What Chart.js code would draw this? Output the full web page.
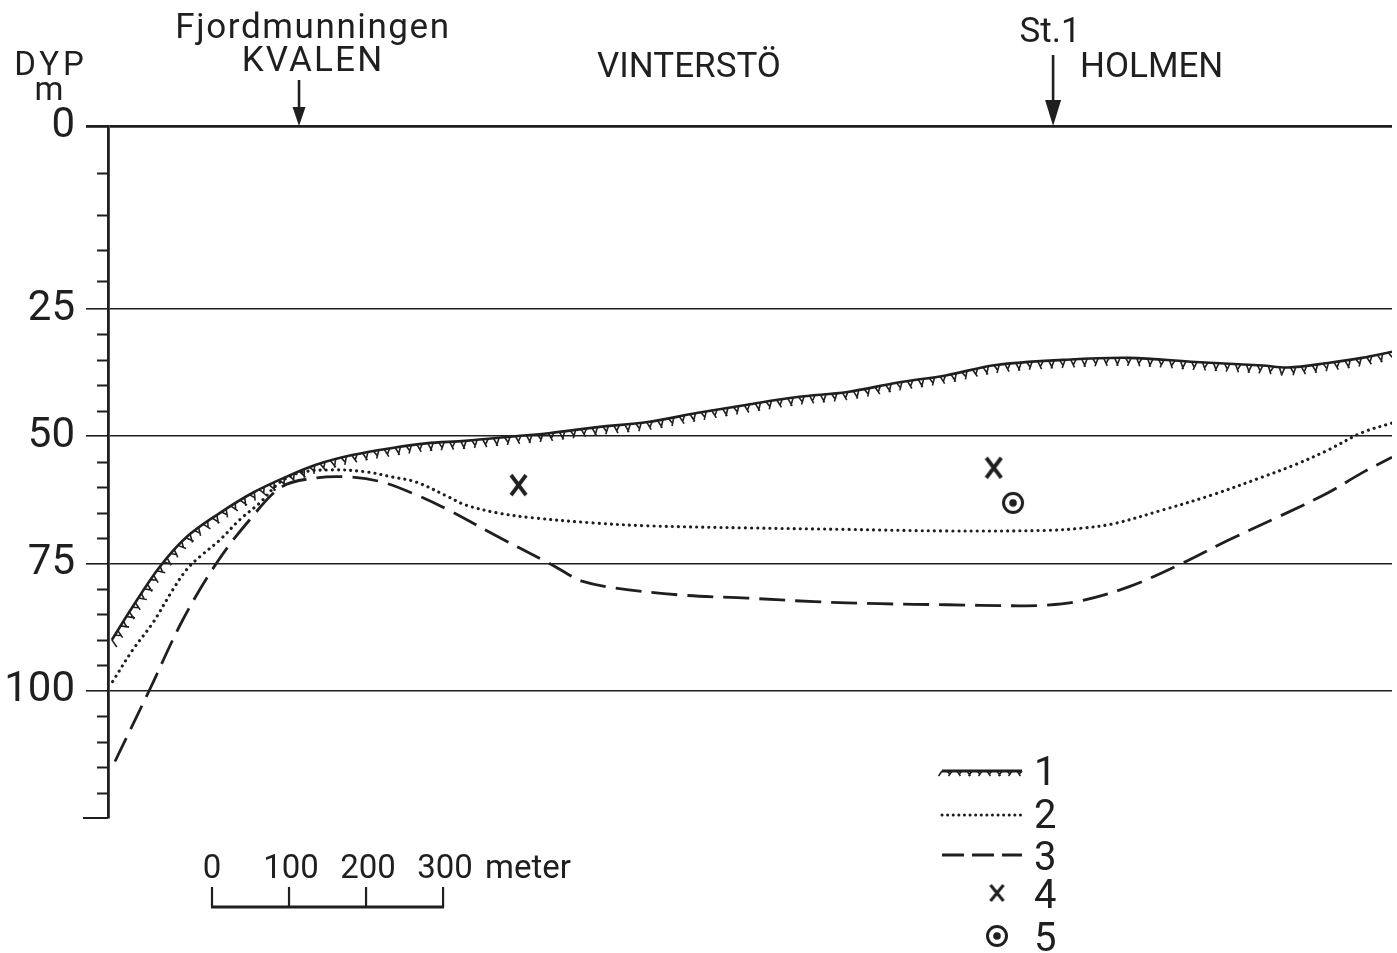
<!DOCTYPE html>
<html>
<head>
<meta charset="utf-8">
<title>DYP profil</title>
<script src="https://cdn.jsdelivr.net/npm/chart.js@4.4.1/dist/chart.umd.min.js"></script>
<style>
  html, body { margin: 0; padding: 0; background: #fff; overflow: hidden; }
  #wrap { width: 1397px; height: 953px; }
  #profile { display: block; }
</style>
</head>
<body>
<div id="wrap"><canvas id="profile" width="1397" height="953"></canvas></div>
<script>
// distance along the profile (m) and depth (m)
const DIST_1 = [5, 32, 67, 102, 145, 188, 231, 270, 317, 369, 413, 464, 529, 572, 636, 701, 766, 830, 895, 960, 1024, 1089, 1153, 1240, 1325, 1412, 1499, 1532, 1584, 1628, 1667];
const DEPTH_1 = [90.0, 83.5, 75.7, 69.8, 65.1, 61.1, 58.0, 55.6, 53.7, 52.3, 51.4, 50.9, 50.0, 49.4, 48.2, 47.2, 45.4, 43.8, 42.3, 41.3, 39.5, 38.0, 36.0, 35.0, 34.6, 35.4, 36.1, 36.5, 35.6, 34.6, 33.4];

const DIST_2 = [6, 32, 58, 84, 102, 119, 145, 171, 197, 222, 248, 291, 335, 369, 400, 442, 464, 507, 550, 627, 701, 830, 960, 1089, 1218, 1261, 1305, 1369, 1434, 1499, 1541, 1584, 1628, 1667];
const DEPTH_2 = [98.2, 92.0, 86.7, 80.2, 76.2, 73.7, 70.4, 66.4, 63.1, 59.2, 57.2, 56.6, 57.0, 58.0, 59.0, 61.9, 63.5, 65.1, 66.0, 67.0, 67.6, 68.0, 68.3, 68.6, 68.5, 68.1, 67.2, 64.5, 61.5, 58.0, 55.6, 52.7, 49.3, 47.4];

const DIST_3 = [9, 54, 97, 141, 184, 226, 270, 313, 356, 400, 442, 507, 572, 594, 614, 658, 744, 830, 917, 1002, 1089, 1175, 1218, 1261, 1325, 1390, 1455, 1520, 1584, 1628, 1667];
const DEPTH_3 = [113.9, 99.8, 86.1, 74.9, 66.4, 59.9, 58.2, 58.0, 59.0, 61.5, 64.5, 69.8, 74.9, 76.8, 78.4, 79.8, 81.2, 81.8, 82.5, 82.9, 83.1, 83.3, 83.2, 82.4, 79.6, 75.3, 70.4, 65.8, 61.1, 57.2, 54.1];

const DIST_4 = [533, 1150];
const DEPTH_4 = [59.6, 56.2];
const DIST_5 = [1175];
const DEPTH_5 = [63.1];

const DEPTH_LABELS = [0, 25, 50, 75, 100];
const SCALE_BAR = [0, 100, 200, 300];
const STATIONS = [
  { lines: ['Fjordmunningen', 'KVALEN'], dist: 248 },
  { lines: ['St.1'], dist: 1227 }
];
const LEGEND = ['1', '2', '3', '4', '5'];

const INK = '#1f1f1f';
const FONT = 'Roboto, "Open Sans", sans-serif';

// the drawing's depth axis is stretched near the surface
const DEPTH_STOPS = [[0, 0], [5, 47], [10, 89], [15, 124], [20, 155], [25, 183], [125, 692]];
function depthToFrac(v) {
  const last = DEPTH_STOPS[DEPTH_STOPS.length - 1];
  for (let i = 1; i < DEPTH_STOPS.length; i++) {
    const a = DEPTH_STOPS[i - 1], b = DEPTH_STOPS[i];
    if (v <= b[0] || i === DEPTH_STOPS.length - 1) {
      return (a[1] + (v - a[0]) / (b[0] - a[0]) * (b[1] - a[1])) / last[1];
    }
  }
}
function fracToDepth(f) {
  const last = DEPTH_STOPS[DEPTH_STOPS.length - 1];
  const p = f * last[1];
  for (let i = 1; i < DEPTH_STOPS.length; i++) {
    const a = DEPTH_STOPS[i - 1], b = DEPTH_STOPS[i];
    if (p <= b[1] || i === DEPTH_STOPS.length - 1) {
      return a[0] + (p - a[1]) / (b[1] - a[1]) * (b[0] - a[0]);
    }
  }
}

class DepthScale extends Chart.LinearScale {
  getPixelForValue(value) {
    if (value === null || value === undefined || isNaN(value)) return NaN;
    return this.getPixelForDecimal(depthToFrac(value));
  }
  getValueForPixel(pixel) {
    return fracToDepth(this.getDecimalForPixel(pixel));
  }
}
DepthScale.id = 'depth';
DepthScale.defaults = Chart.LinearScale.defaults;
Chart.register(DepthScale);

function pairs(xs, ys) {
  return xs.map((x, i) => ({ x: x, y: ys[i] }));
}

// ring with a dot, symbol 5
function ringDot(size) {
  const c = document.createElement('canvas');
  c.width = size; c.height = size;
  const g = c.getContext('2d');
  g.strokeStyle = INK; g.fillStyle = INK; g.lineWidth = 3;
  g.beginPath(); g.arc(size / 2, size / 2, size / 2 - 2.5, 0, Math.PI * 2); g.stroke();
  g.beginPath(); g.arc(size / 2, size / 2, 3.8, 0, Math.PI * 2); g.fill();
  return c;
}
// slightly tall cross, symbol 4
function crossMark(w, h, lw) {
  const c = document.createElement('canvas');
  c.width = w + 4; c.height = h + 4;
  const g = c.getContext('2d');
  g.strokeStyle = INK; g.lineWidth = lw;
  g.beginPath();
  g.moveTo(2, 2); g.lineTo(w + 2, h + 2);
  g.moveTo(w + 2, 2); g.lineTo(2, h + 2);
  g.stroke();
  return c;
}
const RING = ringDot(24);
const CROSS = crossMark(15, 20, 3.8);
const CROSS_SMALL = crossMark(13, 16, 3);

// follow the bezier path of a line dataset
function samplePath(points) {
  const out = [];
  for (let i = 0; i < points.length - 1; i++) {
    const a = points[i], b = points[i + 1];
    const c1x = a.cp2x ?? a.x, c1y = a.cp2y ?? a.y;
    const c2x = b.cp1x ?? b.x, c2y = b.cp1y ?? b.y;
    for (let s = 0; s < 16; s++) {
      const t = s / 16, u = 1 - t;
      out.push({
        x: u * u * u * a.x + 3 * u * u * t * c1x + 3 * u * t * t * c2x + t * t * t * b.x,
        y: u * u * u * a.y + 3 * u * u * t * c1y + 3 * u * t * t * c2y + t * t * t * b.y
      });
    }
  }
  const l = points[points.length - 1];
  out.push({ x: l.x, y: l.y });
  return out;
}

// little slanted strokes under the sea floor line
function drawHatch(ctx, path, spacing, len) {
  let next = 0, dist = 0, k = 0;
  ctx.save();
  ctx.strokeStyle = INK;
  ctx.lineWidth = 1.6;
  ctx.beginPath();
  for (let i = 1; i < path.length; i++) {
    const p = path[i - 1], q = path[i];
    const dx = q.x - p.x, dy = q.y - p.y, L = Math.hypot(dx, dy);
    if (!L) continue;
    const tx = dx / L, ty = dy / L, nx = -ty, ny = tx;
    while (next <= dist + L) {
      const f = (next - dist) / L;
      const x = p.x + dx * f, y = p.y + dy * f;
      const s = (k % 2 ? 1 : -1) * 3.4;
      const l = len * (k % 3 === 1 ? 0.75 : 1);
      ctx.moveTo(x, y);
      ctx.lineTo(x + nx * l + tx * s, y + ny * l + ty * s);
      k++;
      next += spacing;
    }
    dist += L;
  }
  ctx.stroke();
  ctx.restore();
}

const hatchPlugin = {
  id: 'hatch',
  afterDatasetsDraw(chart) {
    const meta = chart.getDatasetMeta(0);
    const ctx = chart.ctx;
    const area = chart.chartArea;
    ctx.save();
    ctx.beginPath();
    ctx.rect(area.left, area.top, area.right - area.left, area.bottom - area.top);
    ctx.clip();
    drawHatch(ctx, samplePath(meta.data), 5.5, 8);
    ctx.restore();
  }
};

function text(ctx, str, x, y, size, align, spacing) {
  ctx.font = '400 ' + size + 'px ' + FONT;
  ctx.textAlign = align;
  ctx.textBaseline = 'alphabetic';
  ctx.letterSpacing = (spacing || 0) + 'px';
  ctx.fillText(str, x, y);
  ctx.letterSpacing = '0px';
}

function arrow(ctx, x, y0, y1, headLen, headW) {
  ctx.beginPath();
  ctx.moveTo(x, y0);
  ctx.lineTo(x, y1 - headLen + 2);
  ctx.stroke();
  ctx.beginPath();
  ctx.moveTo(x - headW / 2, y1 - headLen);
  ctx.lineTo(x + headW / 2, y1 - headLen);
  ctx.lineTo(x, y1);
  ctx.closePath();
  ctx.fill();
}

const decorPlugin = {
  id: 'decor',
  afterDraw(chart) {
    const ctx = chart.ctx;
    const xs = chart.scales.x, ys = chart.scales.y;
    const area = chart.chartArea;
    ctx.save();
    ctx.fillStyle = INK;
    ctx.strokeStyle = INK;

    // minor depth ticks every 5 m
    ctx.lineWidth = 2;
    ctx.beginPath();
    for (let v = 5; v < 125; v += 5) {
      if (v % 25 === 0) continue;
      const y = Math.round(ys.getPixelForValue(v)) + 0.5;
      ctx.moveTo(area.left - 11, y);
      ctx.lineTo(area.left, y);
    }
    const yb = ys.getPixelForValue(125);
    ctx.moveTo(area.left - 25, yb);
    ctx.lineTo(area.left, yb);
    ctx.stroke();

    // axis title
    text(ctx, 'DYP', 51, 75, 33, 'center', 4);
    text(ctx, 'm', 49, 100, 33, 'center');

    // stations with arrows
    ctx.lineWidth = 2.6;
    const k = xs.getPixelForValue(STATIONS[0].dist);
    text(ctx, STATIONS[0].lines[0], k + 14, 38, 35, 'center', 1.6);
    text(ctx, STATIONS[0].lines[1], k + 14, 71, 35, 'center', 2.2);
    arrow(ctx, k, 80, area.top, 19, 13);
    const s = xs.getPixelForValue(STATIONS[1].dist);
    text(ctx, STATIONS[1].lines[0], s - 3, 42, 35, 'center');
    arrow(ctx, s, 55, area.top, 26, 16);

    text(ctx, 'VINTERSTÖ', 689, 77, 35, 'center');
    text(ctx, 'HOLMEN', 1080, 77, 35, 'left');

    // scale bar
    const x0 = 212;
    const unit = xs.getPixelForValue(100) - xs.getPixelForValue(0);
    ctx.lineWidth = 2.2;
    ctx.beginPath();
    SCALE_BAR.forEach((m) => {
      const x = x0 + unit * m / 100;
      ctx.moveTo(x, 887);
      ctx.lineTo(x, 907);
    });
    ctx.stroke();
    ctx.lineWidth = 3;
    ctx.beginPath();
    ctx.moveTo(x0 - 1, 907);
    ctx.lineTo(x0 + unit * 3 + 1, 907);
    ctx.stroke();
    SCALE_BAR.forEach((m) => {
      text(ctx, String(m), x0 + unit * m / 100 + (m ? 2 : 0), 878, 33, 'center');
    });
    text(ctx, 'meter', 485, 878, 33, 'left');

    // legend
    const lx0 = 942, lx1 = 1022;
    ctx.lineWidth = 3;
    ctx.beginPath(); ctx.moveTo(lx0, 771); ctx.lineTo(lx1, 771); ctx.stroke();
    drawHatch(ctx, [{ x: lx0, y: 771 }, { x: lx1, y: 771 }], 5, 5);
    ctx.lineWidth = 3;
    ctx.lineCap = 'round';
    ctx.setLineDash([0.1, 5.5]);
    ctx.beginPath(); ctx.moveTo(lx0, 815); ctx.lineTo(lx1, 815); ctx.stroke();
    ctx.lineCap = 'butt';
    ctx.lineWidth = 2.8;
    ctx.setLineDash([22, 8]);
    ctx.beginPath(); ctx.moveTo(lx0, 855); ctx.lineTo(lx1, 855); ctx.stroke();
    ctx.setLineDash([]);
    ctx.drawImage(CROSS_SMALL, 997 - CROSS_SMALL.width / 2, 893 - CROSS_SMALL.height / 2);
    ctx.drawImage(RING, 997 - RING.width / 2, 936 - RING.height / 2);
    const ly = [785, 828, 870, 908, 951];
    LEGEND.forEach((l, i) => text(ctx, l, 1034, ly[i], 40, 'left'));
    ctx.restore();
  }
};

const chart = new Chart(document.getElementById('profile'), {
  type: 'line',
  data: {
    datasets: [
      {
        label: '1',
        data: pairs(DIST_1, DEPTH_1),
        borderColor: INK,
        borderWidth: 2.6,
        tension: 0.35,
        pointRadius: 0
      },
      {
        label: '2',
        data: pairs(DIST_2, DEPTH_2),
        borderColor: INK,
        borderWidth: 3.1,
        borderDash: [0.1, 6],
        borderCapStyle: 'round',
        tension: 0.35,
        pointRadius: 0
      },
      {
        label: '3',
        data: pairs(DIST_3, DEPTH_3),
        borderColor: INK,
        borderWidth: 2.8,
        borderDash: [26, 10],
        tension: 0.35,
        pointRadius: 0
      },
      {
        label: '4',
        type: 'scatter',
        data: pairs(DIST_4, DEPTH_4),
        pointStyle: CROSS,
        showLine: false
      },
      {
        label: '5',
        type: 'scatter',
        data: pairs(DIST_5, DEPTH_5),
        pointStyle: RING,
        showLine: false
      }
    ]
  },
  options: {
    responsive: false,
    animation: false,
    events: [],
    layout: { padding: { top: 126, bottom: 135, left: 0, right: 0 } },
    plugins: { legend: { display: false }, tooltip: { enabled: false } },
    scales: {
      x: {
        type: 'linear',
        min: 0,
        max: 1667,
        display: false
      },
      y: {
        type: 'depth',
        reverse: true,
        min: 0,
        max: 125,
        afterFit: (scale) => { scale.width = 108; },
        border: { display: true, color: INK, width: 2.8 },
        grid: {
          color: (c) => (DEPTH_LABELS.includes(c.tick.value) ? INK : 'rgba(0,0,0,0)'),
          lineWidth: (c) => (c.tick.value === 0 ? 2.8 : 1.6),
          tickColor: (c) => (DEPTH_LABELS.includes(c.tick.value) ? INK : 'rgba(0,0,0,0)'),
          tickLength: 22
        },
        ticks: {
          stepSize: 5,
          autoSkip: false,
          padding: 11,
          color: INK,
          font: { family: FONT, size: 42 },
          callback: (v) => (DEPTH_LABELS.includes(v) ? String(v) : '')
        }
      }
    }
  },
  plugins: [hatchPlugin, decorPlugin]
});
</script>
</body>
</html>
